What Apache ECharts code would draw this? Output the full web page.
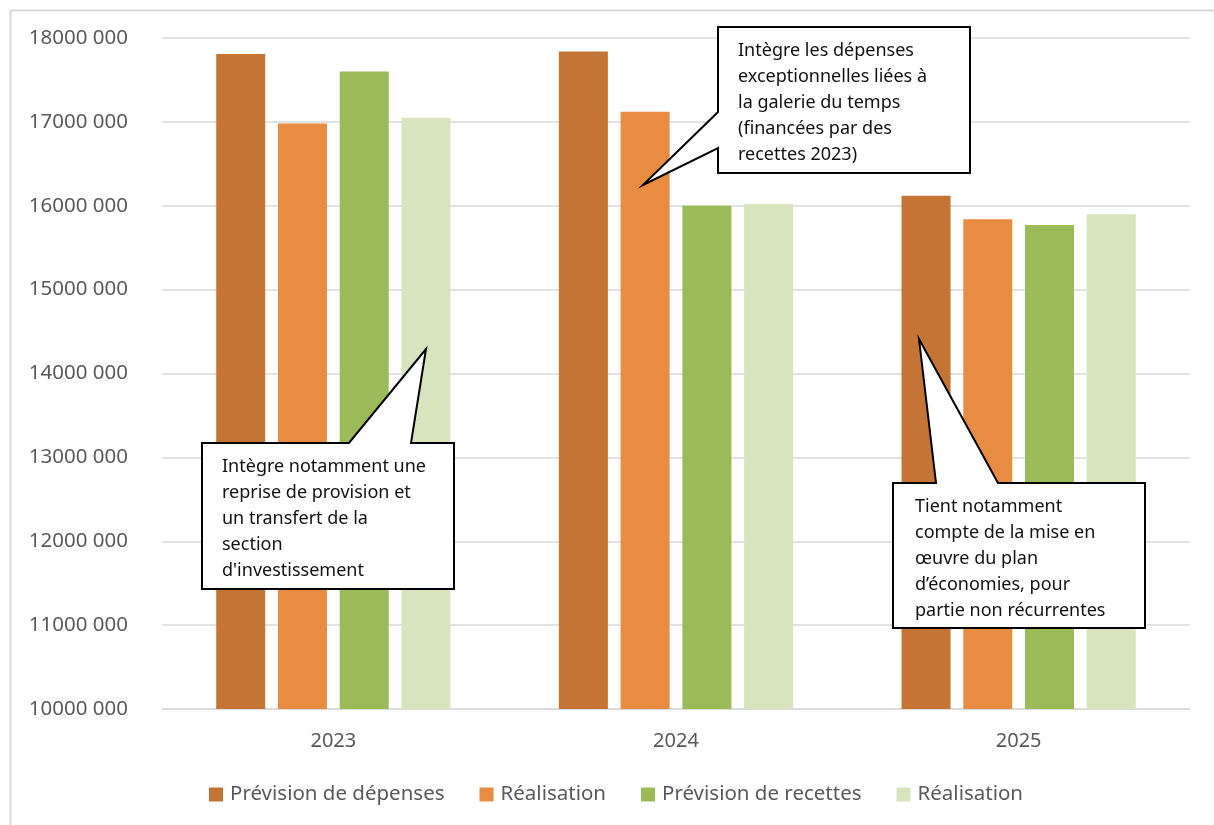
<!DOCTYPE html>
<html>
<head>
<meta charset="utf-8">
<script src="https://cdn.jsdelivr.net/npm/echarts@6/dist/echarts.min.js"></script>
<style>
html,body{margin:0;padding:0;background:#fff;}
#chart{width:1214px;height:825px;}
</style>
</head>
<body>
<div id="chart"></div>
<script>
const categories = ['2023', '2024', '2025'];
const previsionDepenses = [17810000, 17840000, 16120000];
const realisationDepenses = [16980000, 17120000, 15840000];
const previsionRecettes = [17600000, 16000000, 15770000];
const realisationRecettes = [17050000, 16020000, 15900000];
const seriesNames = ['Prévision de dépenses', 'Réalisation', 'Prévision de recettes', 'Réalisation '];
const colors = ['#C47536', '#E88C41', '#9BBB59', '#D7E4BD'];
const note2023 = 'Intègre notamment une\nreprise de provision et\nun transfert de la\nsection\nd\'investissement';
const note2024 = 'Intègre les dépenses\nexceptionnelles liées à\nla galerie du temps\n(financées par des\nrecettes 2023)';
const note2025 = 'Tient notamment\ncompte de la mise en\nœuvre du plan\nd’économies, pour\npartie non récurrentes';

const FONT = '"Noto Sans", sans-serif';
const chart = echarts.init(document.getElementById('chart'), null, {renderer: 'canvas'});

const allValues = [previsionDepenses, realisationDepenses, previsionRecettes, realisationRecettes];

const textStyleNote = {fontFamily: FONT, fontSize: 18, fill: '#111', lineHeight: 26};

chart.setOption({
  animation: false,
  color: colors,
  grid: {left: 162, right: 24, top: 38, bottom: 116, containLabel: false},
  legend: {
    left: 204, top: 779,
    itemWidth: 14, itemHeight: 14, itemGap: 35,
    icon: 'rect',
    textStyle: {fontFamily: FONT, fontSize: 20.5, color: '#595959', padding: [0, 0, 0, 2]},
    data: seriesNames
  },
  xAxis: {
    type: 'category',
    data: categories,
    axisLine: {lineStyle: {color: '#d9d9d9', width: 1.5}},
    axisTick: {show: false},
    axisLabel: {fontFamily: FONT, fontSize: 20, color: '#595959', margin: 22}
  },
  yAxis: {
    type: 'value',
    min: 10000000, max: 18000000, interval: 1000000,
    axisLine: {show: false},
    axisTick: {show: false},
    splitLine: {lineStyle: {color: '#d9d9d9', width: 1.5}},
    axisLabel: {
      fontFamily: FONT, fontSize: 20.5, color: '#595959', margin: 34,
      formatter: function (v) { const s = String(v); return s.slice(0, -3) + ' ' + s.slice(-3); }
    }
  },
  series: allValues.map(function (vals, i) {
    return {
      name: seriesNames[i], type: 'bar', data: vals,
      barWidth: 49, barGap: '26%',
      itemStyle: {color: colors[i]}
    };
  }),
  graphic: [
    {type: 'rect', left: 8, top: 8, shape: {x: 0, y: 0, width: 1240, height: 900},
     style: {fill: 'none', stroke: '#d9d9d9', lineWidth: 2}, silent: true, z: -1},
    {type: 'polygon', shape: {points: [[202,443],[349,443],[426,349],[411,443],[454,443],[454,589],[202,589]]},
     style: {fill: '#fff', stroke: '#000', lineWidth: 2}, z: 10},
    {type: 'text', x: 222, y: 454, style: Object.assign({text: note2023, verticalAlign: 'top'}, textStyleNote), z: 11},
    {type: 'polygon', shape: {points: [[718,27],[970,27],[970,173],[718,173],[718,148],[643,185],[718,112]]},
     style: {fill: '#fff', stroke: '#000', lineWidth: 2}, z: 10},
    {type: 'text', x: 738, y: 38, style: Object.assign({text: note2024, verticalAlign: 'top'}, textStyleNote), z: 11},
    {type: 'polygon', shape: {points: [[893,483],[936,483],[919,339],[998,483],[1145,483],[1145,628],[893,628]]},
     style: {fill: '#fff', stroke: '#000', lineWidth: 2}, z: 10},
    {type: 'text', x: 915, y: 494, style: Object.assign({text: note2025, verticalAlign: 'top'}, textStyleNote), z: 11}
  ]
});
</script>
</body>
</html>
